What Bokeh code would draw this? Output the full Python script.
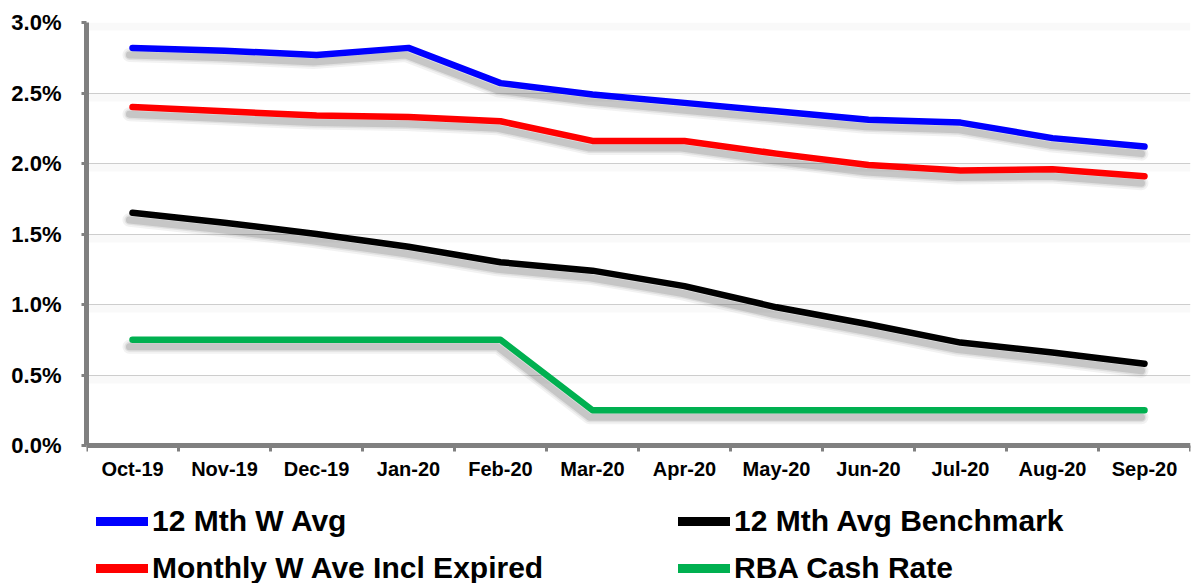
from bokeh.plotting import figure
from bokeh.models import (ColumnDataSource, FixedTicker, PrintfTickFormatter,
                          Legend, LegendItem, Range1d)
from bokeh.embed import file_html
from bokeh.resources import INLINE

months = ["Oct-19", "Nov-19", "Dec-19", "Jan-20", "Feb-20", "Mar-20",
          "Apr-20", "May-20", "Jun-20", "Jul-20", "Aug-20", "Sep-20"]
w_avg_12m = [2.82, 2.80, 2.77, 2.82, 2.57, 2.49, 2.43, 2.37, 2.31, 2.29, 2.18, 2.12]
monthly_w_ave = [2.40, 2.37, 2.34, 2.33, 2.30, 2.16, 2.16, 2.07, 1.99, 1.95, 1.96, 1.91]
benchmark_12m = [1.65, 1.58, 1.50, 1.41, 1.30, 1.24, 1.13, 0.98, 0.86, 0.73, 0.66, 0.58]
rba_cash = [0.75, 0.75, 0.75, 0.75, 0.75, 0.25, 0.25, 0.25, 0.25, 0.25, 0.25, 0.25]
y_ticks = [0.0, 0.5, 1.0, 1.5, 2.0, 2.5, 3.0]

series = [
    ("12 Mth W Avg", w_avg_12m, "#0000FF"),
    ("Monthly W Ave Incl Expired", monthly_w_ave, "#FF0000"),
    ("12 Mth Avg Benchmark", benchmark_12m, "#000000"),
    ("RBA Cash Rate", rba_cash, "#00B050"),
]

xs = [i + 0.5 for i in range(len(months))]

# plot frame runs from y=22 to the bottom of the canvas (583); value axis 0..3 spans 22..445
Y_TOP = 3.0
PX_PER_UNIT = (445 - 22) / Y_TOP
y_bottom = Y_TOP - (583 - 22) / PX_PER_UNIT

p = figure(width=1191, height=583, output_backend="svg", toolbar_location=None,
           x_range=Range1d(0, len(months)), y_range=Range1d(y_bottom, Y_TOP),
           min_border_left=86, min_border_right=1, min_border_top=22,
           min_border_bottom=0)
p.outline_line_color = None
p.background_fill_color = "white"
p.border_fill_color = "white"

# faint shading under each gridline
p.hspan(y=[v - 0.03 for v in y_ticks[1:]], line_width=8, line_color="#000000",
        line_alpha=0.025)

# soft drop shadows
for name, vals, color in series:
    sx = [x - 0.033 for x in xs]
    sy = [v - 0.05 for v in vals]
    for w, a in [(14, 0.07), (10, 0.10), (7, 0.16)]:
        p.line(sx, sy, line_width=w, line_color="#404040", line_alpha=a,
               line_cap="round", line_join="round")

nan = float("nan")
legend_glyphs = {}
for name, vals, color in series:
    src = ColumnDataSource(dict(x=xs, y=vals))
    p.line("x", "y", source=src, line_width=6.5, line_color=color,
           line_cap="round", line_join="round")
    # thicker key line for the legend only (no visible data)
    key_src = ColumnDataSource(dict(x=[nan], y=[nan]))
    legend_glyphs[name] = p.line("x", "y", source=key_src, line_width=9,
                                 line_color=color, line_cap="round")

# axes
xa = p.xaxis[0]
xa.fixed_location = 0
xa.ticker = FixedTicker(ticks=xs, minor_ticks=list(range(len(months) + 1)))
xa.major_label_overrides = {x: m for x, m in zip(xs, months)}
xa.major_tick_out = 0
xa.major_tick_in = 0
xa.minor_tick_out = 6
xa.minor_tick_in = 0
xa.minor_tick_line_color = "#808080"
xa.minor_tick_line_width = 3
xa.axis_line_color = "#808080"
xa.axis_line_width = 5
xa.major_label_text_font = "Liberation Sans"
xa.major_label_text_font_style = "bold"
xa.major_label_text_font_size = "20px"
xa.major_label_text_color = "black"
xa.major_label_standoff = 6

ya = p.yaxis[0]
ya.bounds = (0, Y_TOP)
ya.ticker = FixedTicker(ticks=y_ticks)
ya.formatter = PrintfTickFormatter(format="%.1f%%")
ya.major_tick_out = 5
ya.major_tick_in = 0
ya.major_tick_line_color = "#808080"
ya.major_tick_line_width = 3
ya.minor_tick_out = 0
ya.minor_tick_in = 0
ya.axis_line_color = "#808080"
ya.axis_line_width = 5
ya.major_label_text_font = "Liberation Sans"
ya.major_label_text_font_style = "bold"
ya.major_label_text_font_size = "22px"
ya.major_label_text_color = "black"
ya.major_label_standoff = 20

p.xgrid.grid_line_color = None
p.ygrid.ticker = FixedTicker(ticks=y_ticks[1:])
p.ygrid.grid_line_color = "#D0D0D0"
p.ygrid.grid_line_width = 1


def make_legend(names, loc):
    lg = Legend(items=[LegendItem(label=n, renderers=[legend_glyphs[n]]) for n in names],
                location=loc, orientation="vertical")
    lg.padding = 0
    lg.margin = 0
    lg.spacing = 13
    lg.glyph_width = 52
    lg.glyph_height = 34
    lg.label_height = 34
    lg.label_standoff = 4
    lg.label_text_font = "Liberation Sans"
    lg.label_text_font_style = "bold"
    lg.label_text_font_size = "30px"
    lg.label_text_color = "black"
    lg.border_line_color = None
    lg.background_fill_alpha = 0
    return lg


p.add_layout(make_legend(["12 Mth W Avg", "Monthly W Ave Incl Expired"], (10, -2)))
p.add_layout(make_legend(["12 Mth Avg Benchmark", "RBA Cash Rate"], (592, -2)))

open("out.html", "w").write(file_html(p, INLINE))
